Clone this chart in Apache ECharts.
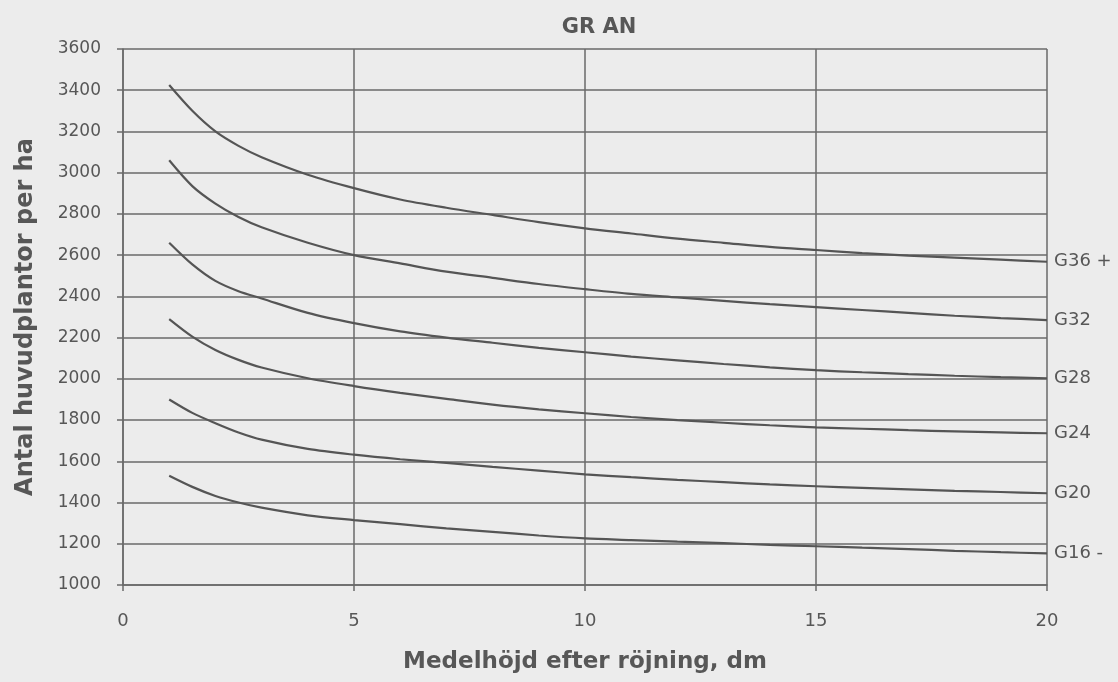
<!DOCTYPE html>
<html>
<head>
<meta charset="utf-8">
<script src="https://cdn.jsdelivr.net/npm/echarts@6/dist/echarts.min.js"></script>
<style>
  html, body { margin: 0; padding: 0; background: #ececec; }
  #chart { width: 1118px; height: 682px; }
</style>
</head>
<body>
<div id="chart"></div>
<script>
// Medelhöjd efter röjning (dm) – sample heights shared by every curve
const heights = [1, 1.5, 2, 2.5, 3, 4, 5, 6, 7, 8, 9, 10, 11, 12, 13, 14, 15, 16, 17, 18, 19, 20];

// Antal huvudplantor per ha for each ståndortsindex
const seriesNames = ['G36 +', 'G32', 'G28', 'G24', 'G20', 'G16 -'];
const g36 = [3425, 3300, 3200, 3130, 3075, 2990, 2925, 2870, 2830, 2795, 2760, 2730, 2705, 2680, 2660, 2640, 2625, 2610, 2598, 2588, 2578, 2568];
const g32 = [3060, 2935, 2850, 2785, 2735, 2660, 2600, 2560, 2520, 2490, 2460, 2435, 2412, 2395, 2378, 2362, 2348, 2334, 2320, 2306, 2295, 2285];
const g28 = [2660, 2555, 2475, 2425, 2390, 2320, 2270, 2230, 2200, 2175, 2150, 2129, 2108, 2090, 2072, 2056, 2042, 2032, 2023, 2015, 2008, 2003];
const g24 = [2290, 2205, 2140, 2092, 2055, 2003, 1965, 1932, 1903, 1875, 1852, 1833, 1815, 1800, 1787, 1775, 1765, 1758, 1751, 1745, 1740, 1736];
const g20 = [1900, 1835, 1785, 1740, 1705, 1660, 1632, 1610, 1592, 1573, 1555, 1537, 1523, 1510, 1499, 1488, 1479, 1471, 1464, 1457, 1451, 1445];
const g16 = [1530, 1476, 1432, 1400, 1375, 1338, 1315, 1295, 1275, 1258, 1240, 1226, 1218, 1210, 1203, 1195, 1188, 1181, 1174, 1166, 1159, 1153];
const seriesValues = [g36, g32, g28, g24, g20, g16];

const xTicks = [0, 5, 10, 15, 20];
const yMin = 1000, yMax = 3600, yStep = 200;

const textColor = '#575757';
const lineColor = '#555555';
const gridColor = '#6a6a6a';
const fontFamily = '"DejaVu Sans", sans-serif';

const chart = echarts.init(document.getElementById('chart'));

chart.setOption({
  backgroundColor: '#ececec',
  animation: false,
  title: {
    text: 'GR AN',
    left: 594,
    top: 12,
    textAlign: 'center',
    textStyle: { fontFamily, fontSize: 21, fontWeight: 'bold', color: textColor }
  },
  grid: { left: 123, top: 49, right: 71, bottom: 97, containLabel: false },
  xAxis: {
    type: 'value',
    min: xTicks[0],
    max: xTicks[xTicks.length - 1],
    interval: xTicks[1] - xTicks[0],
    name: 'Medelhöjd efter röjning, dm',
    nameLocation: 'middle',
    nameGap: 66,
    nameTextStyle: { fontFamily, fontSize: 23, fontWeight: 'bold', color: textColor },
    axisLine: { lineStyle: { color: gridColor, width: 1.5 } },
    axisTick: { show: true, length: 6, lineStyle: { color: gridColor, width: 1.5 } },
    axisLabel: { margin: 27, fontFamily, fontSize: 18, color: textColor },
    splitLine: { show: true, lineStyle: { color: gridColor, width: 1.5 } }
  },
  yAxis: {
    type: 'value',
    min: yMin,
    max: yMax,
    interval: yStep,
    name: 'Antal huvudplantor per ha',
    nameLocation: 'middle',
    nameGap: 85,
    nameTextStyle: { fontFamily, fontSize: 24, fontWeight: 'bold', color: textColor },
    axisLine: { show: true, lineStyle: { color: gridColor, width: 1.5 } },
    axisTick: { show: true, length: 6, lineStyle: { color: gridColor, width: 1.5 } },
    axisLabel: { margin: 22, fontFamily, fontSize: 17, color: textColor, formatter: v => String(v) },
    splitLine: { show: true, lineStyle: { color: gridColor, width: 1.5 } }
  },
  series: seriesNames.map((name, i) => ({
    name,
    type: 'line',
    smooth: 0.3,
    showSymbol: false,
    data: heights.map((h, k) => [h, seriesValues[i][k]]),
    lineStyle: { color: lineColor, width: 2.2 },
    endLabel: {
      show: true,
      formatter: name,
      distance: 7,
      fontFamily,
      fontSize: 18,
      color: textColor
    }
  }))
});
</script>
</body>
</html>
